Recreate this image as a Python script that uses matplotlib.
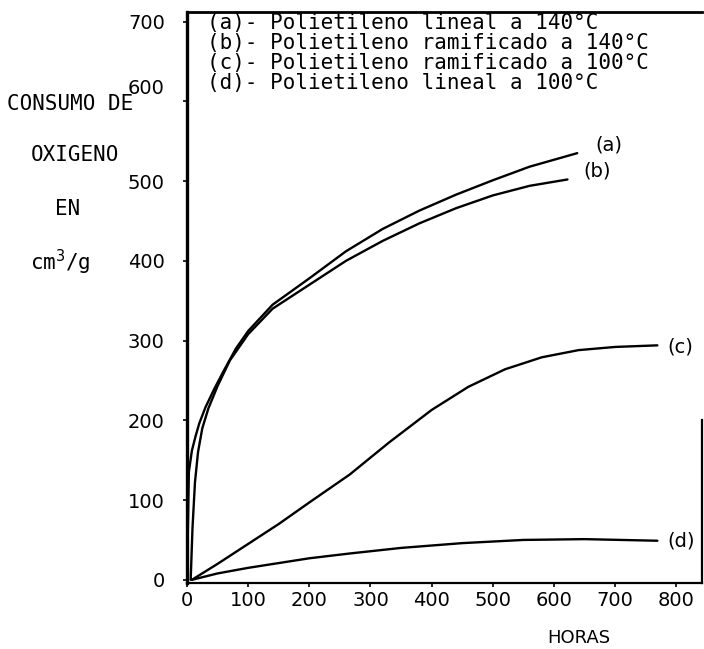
import matplotlib
matplotlib.use("Agg")
import matplotlib.pyplot as plt
import matplotlib.transforms as mtransforms

# curve data (hours, cm3/g)
a_x = [0, 3, 8, 14, 20, 30, 45, 60, 80, 100, 140, 200, 260, 320, 380, 440, 500, 560, 638]
a_y = [0, 135, 162, 180, 196, 216, 240, 262, 290, 312, 345, 378, 412, 440, 463, 483, 501, 518, 535]
b_x = [6, 9, 13, 18, 25, 35, 50, 70, 100, 140, 200, 260, 320, 380, 440, 500, 560, 622]
b_y = [0, 65, 122, 160, 190, 215, 243, 275, 308, 340, 370, 400, 425, 447, 466, 482, 494, 502]
c_x = [8, 50, 100, 150, 200, 266, 330, 400, 460, 520, 580, 640, 700, 769]
c_y = [0, 20, 45, 70, 97, 132, 172, 213, 242, 264, 279, 288, 292, 294]
d_x = [8, 50, 100, 150, 200, 266, 350, 450, 550, 650, 769]
d_y = [0, 8, 15, 21, 27, 33, 40, 46, 50, 51, 49]

legend_lines = [
    "(a)- Polietileno lineal a 140°C",
    "(b)- Polietileno ramificado a 140°C",
    "(c)- Polietileno ramificado a 100°C",
    "(d)- Polietileno lineal a 100°C",
]
ylabel_lines = ["CONSUMO DE", "OXIGENO", "EN", "cm$^3$/g"]
x_ticks = [0, 100, 200, 300, 400, 500, 600, 700, 800]
y_ticks = [0, 100, 200, 300, 400, 500, 600, 700]

W, H = 704, 649
fig = plt.figure(figsize=(W / 100, H / 100), dpi=100)
ax = fig.add_axes([187 / W, 1 - 583 / H, (702 - 187) / W, (583 - 12) / H])

for xs, ys in [(a_x, a_y), (b_x, b_y), (c_x, c_y), (d_x, d_y)]:
    ax.plot(xs, ys, color="black", lw=1.7, solid_capstyle="round")

ax.set_xlim(0, 842)
ax.set_ylim(-4, 712)
ax.set_xticks(x_ticks)
ax.set_yticks(y_ticks)
ax.tick_params(direction="out", length=3, width=1.2, labelsize=14, colors="black")
ax.tick_params(axis="y", pad=13)
ax.tick_params(axis="x", pad=3)

# the typed "600" sits a little above its tick in the original
for lab in ax.get_yticklabels():
    if lab.get_text() == "600":
        lab.set_transform(lab.get_transform() +
                          mtransforms.ScaledTranslation(0, 15 / 100, fig.dpi_scale_trans))

ax.spines["left"].set_linewidth(2.4)
ax.spines["top"].set_linewidth(2.0)
ax.spines["bottom"].set_linewidth(1.6)
ax.spines["right"].set_linewidth(1.6)
ax.spines["right"].set_bounds(-4, 200)

# curve end labels
ax.text(668, 545, "(a)", fontsize=14, va="center", ha="left")
ax.text(648, 512, "(b)", fontsize=14, va="center", ha="left")
ax.text(785, 292, "(c)", fontsize=14, va="center", ha="left")
ax.text(785, 49, "(d)", fontsize=14, va="center", ha="left")

# typed legend inside the frame
mono = "DejaVu Sans Mono"
for i, line in enumerate(legend_lines):
    fig.text(207 / W, 1 - (23 + 20 * i) / H, line, family=mono, fontsize=15,
             va="center", ha="left")

# stacked y axis title
ylab_pos = [(70, 104), (75, 155), (68, 209), (60, 262)]
for txt, (px, py) in zip(ylabel_lines, ylab_pos):
    fig.text(px / W, 1 - py / H, txt, family=mono, fontsize=15,
             va="center", ha="center")

fig.text(579 / W, 1 - 638 / H, "HORAS", fontsize=13, va="center", ha="center")

fig.savefig("out.png", dpi=100)
